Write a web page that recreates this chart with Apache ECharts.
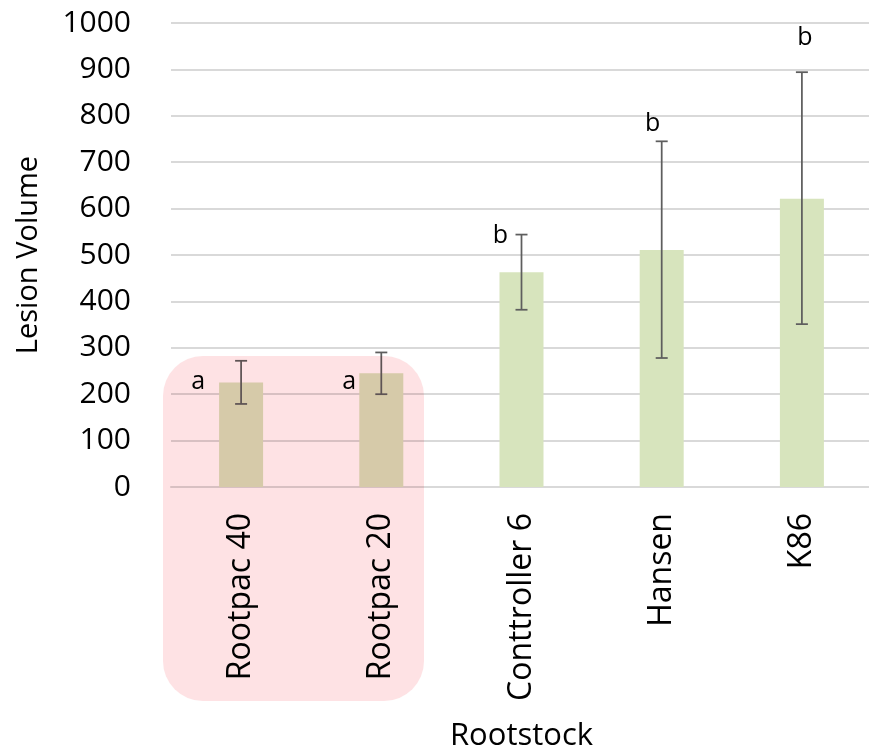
<!DOCTYPE html>
<html>
<head>
<meta charset="utf-8">
<script src="https://cdn.jsdelivr.net/npm/echarts@6/dist/echarts.min.js"></script>
<style>
  html, body { margin: 0; padding: 0; background: #fff; }
  #chart { width: 869px; height: 750px; }
</style>
</head>
<body>
<div id="chart"></div>
<script>
// Lesion volume by rootstock, with error bars and significance groups
const rootstocks = ['Rootpac 40', 'Rootpac 20', 'Conttroller 6', 'Hansen', 'K86'];
const lesionMean = [225, 245, 463, 511, 621];
const errorLow = [179, 200, 382, 278, 351];
const errorHigh = [272, 290, 544, 745, 894];
const groupLetters = ['a', 'a', 'b', 'b', 'b'];
const yMin = 0;
const yMax = 1000;
const yStep = 100;

// pixel nudges for the group letters, relative to the top of each error bar
const letterNudge = [[-43, 21], [-32, 29], [-21, 1], [-9, -17], [3, -34]];

const FONT = '"Open Sans", Lato, sans-serif';

const chart = echarts.init(document.getElementById('chart'), null, { renderer: 'canvas' });

chart.setOption({
  backgroundColor: '#ffffff',
  animation: false,
  grid: {
    left: 171,
    right: -3,
    top: 23,
    bottom: 263,
    containLabel: false,
    outerBoundsMode: 'none'
  },
  xAxis: {
    type: 'category',
    data: rootstocks,
    name: 'Rootstock',
    nameLocation: 'middle',
    nameGap: 234,
    nameTextStyle: { fontFamily: FONT, fontSize: 31, color: '#000' },
    axisLine: { show: true, lineStyle: { color: '#d9d9d9', width: 2 } },
    axisTick: { show: false },
    axisLabel: {
      rotate: 90,
      margin: 26,
      fontFamily: FONT,
      fontSize: 32,
      color: '#000'
    },
    splitLine: { show: false }
  },
  yAxis: {
    type: 'value',
    min: yMin,
    max: yMax,
    interval: yStep,
    name: 'Lesion Volume',
    nameLocation: 'middle',
    nameGap: 128,
    nameTextStyle: { fontFamily: FONT, fontSize: 29, color: '#000' },
    axisLine: { show: false },
    axisTick: { show: false },
    axisLabel: {
      margin: 40,
      fontFamily: FONT,
      fontSize: 30,
      color: '#000',
      formatter: function (v) { return String(v); }
    },
    splitLine: { show: true, lineStyle: { color: '#d9d9d9', width: 2 } }
  },
  series: [
    {
      type: 'bar',
      data: lesionMean,
      barWidth: 44,
      itemStyle: { color: '#d7e4bd' },
      z: 2
    },
    {
      type: 'custom',
      z: 5,
      data: rootstocks.map((_, i) => [i, errorLow[i], errorHigh[i]]),
      renderItem: function (params, api) {
        const i = api.value(0);
        const lo = api.coord([i, api.value(1)]);
        const hi = api.coord([i, api.value(2)]);
        const cap = 6;
        const line = { stroke: '#5e5e5e', lineWidth: 1.75 };
        const nudge = letterNudge[i];
        return {
          type: 'group',
          children: [
            { type: 'line', shape: { x1: hi[0], y1: hi[1], x2: lo[0], y2: lo[1] }, style: line },
            { type: 'line', shape: { x1: hi[0] - cap, y1: hi[1], x2: hi[0] + cap, y2: hi[1] }, style: line },
            { type: 'line', shape: { x1: lo[0] - cap, y1: lo[1], x2: lo[0] + cap, y2: lo[1] }, style: line },
            {
              type: 'text',
              style: {
                text: groupLetters[i],
                x: hi[0] + nudge[0],
                y: hi[1] + nudge[1],
                align: 'center',
                verticalAlign: 'middle',
                font: '25px ' + FONT,
                fill: '#000'
              }
            }
          ]
        };
      }
    }
  ],
  graphic: [
    {
      type: 'rect',
      z: 100,
      silent: true,
      shape: { x: 163, y: 356, width: 261, height: 345, r: 40 },
      style: { fill: '#fee2e4', blend: 'multiply' }
    }
  ]
});
</script>
</body>
</html>
